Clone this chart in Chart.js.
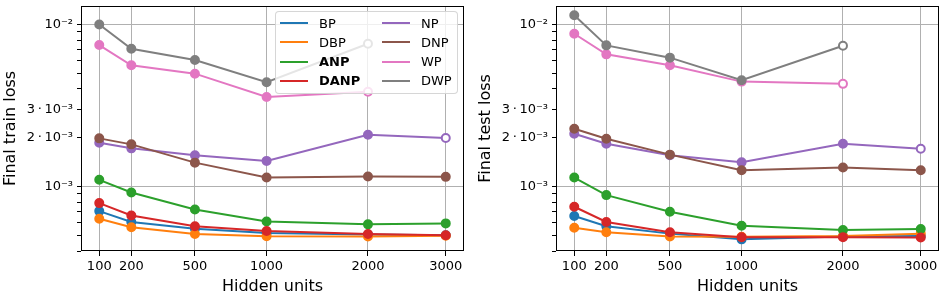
<!DOCTYPE html>
<html>
<head>
<meta charset="utf-8">
<script src="https://cdn.jsdelivr.net/npm/chart.js@4.4.1/dist/chart.umd.min.js"></script>
<style>
  body { margin: 0; background: #fff; }
  #fig { position: relative; width: 945px; height: 296px; }
  .panel { position: absolute; top: 0; width: 470px; height: 296px; }
  #legend {
    position: absolute; left: 275px; top: 11px; width: 181px; height: 81px;
    background: rgba(255, 255, 255, 0.8); border: 1px solid rgba(204, 204, 204, 0.8);
    border-radius: 4px; font: 13px 'DejaVu Sans', sans-serif; color: #000;
  }
  .item { position: absolute; display: flex; align-items: center; height: 19px; white-space: nowrap; }
  .swatch { width: 28px; height: 2px; margin-right: 11px; }
</style>
</head>
<body>
<div id="fig">
  <div class="panel" style="left:0"><canvas id="train" width="470" height="296"></canvas></div>
  <div class="panel" style="left:475px"><canvas id="test" width="470" height="296"></canvas></div>
  <div id="legend"></div>
</div>
<script>
const units = [100, 200, 500, 1000, 2000, 3000]
const names = ['BP', 'DBP', 'ANP', 'DANP', 'NP', 'DNP', 'WP', 'DWP']
const colors = ['#1f77b4', '#ff7f0e', '#2ca02c', '#d62728', '#9467bd', '#8c564b', '#e377c2', '#7f7f7f']
const boldNames = ['ANP', 'DANP']
// last point of these series is drawn as an open circle
const openLast = ['NP', 'WP', 'DWP']

// final train loss
const trainBP   = [0.000705, 0.000604, 0.000549, 0.000516, 0.000505, 0.000500]
const trainDBP  = [0.000633, 0.000560, 0.000509, 0.000493, 0.000492, 0.000497]
const trainANP  = [0.00110, 0.000919, 0.000722, 0.000609, 0.000584, 0.000592]
const trainDANP = [0.000790, 0.000663, 0.000568, 0.000531, 0.000509, 0.000500]
const trainNP   = [0.001864, 0.00172, 0.001558, 0.001439, 0.002087, 0.00199]
const trainDNP  = [0.001982, 0.00182, 0.001404, 0.001136, 0.001152, 0.001147]
const trainWP   = [0.00746, 0.00560, 0.00497, 0.00357, 0.00384, null]
const trainDWP  = [0.0100, 0.00708, 0.00603, 0.00440, 0.00760, null]

// final test loss
const testBP   = [0.000657, 0.000568, 0.000512, 0.000472, 0.000491, 0.000495]
const testDBP  = [0.000557, 0.000522, 0.000491, 0.000490, 0.000495, 0.000512]
const testANP  = [0.001136, 0.000885, 0.000699, 0.000573, 0.000539, 0.000547]
const testDANP = [0.000750, 0.000604, 0.000522, 0.000486, 0.000486, 0.000484]
const testNP   = [0.002117, 0.001838, 0.001558, 0.001411, 0.001838, 0.001712]
const testDNP  = [0.002273, 0.001972, 0.001573, 0.00126, 0.001309, 0.00126]
const testWP   = [0.00876, 0.00654, 0.00560, 0.00444, 0.00430, null]
const testDWP  = [0.0114, 0.00743, 0.00624, 0.00453, 0.00739, null]

const yTickValues = [4e-4, 5e-4, 6e-4, 7e-4, 8e-4, 9e-4, 1e-3, 2e-3, 3e-3, 4e-3, 5e-3, 6e-3, 7e-3, 8e-3, 9e-3, 1e-2]
const yTickLabels = ['', '', '', '', '', '', '10⁻³', '2\u2009·\u200910⁻³', '3\u2009·\u200910⁻³', '', '', '', '', '', '', '10⁻²']
const yGridValues = [1e-3, 1e-2]

Chart.defaults.font.family = "'DejaVu Sans', sans-serif"
Chart.defaults.color = '#000'

const frame = {
  id: 'frame',
  afterDatasetsDraw(chart) {
    const { ctx, chartArea: a } = chart
    ctx.save()
    ctx.strokeStyle = '#000'
    ctx.lineWidth = 1
    ctx.strokeRect(a.left + 0.5, a.top + 0.5, a.right - a.left - 1, a.bottom - a.top - 1)
    ctx.restore()
  }
}

function makeDatasets(series) {
  return names.map((name, i) => {
    const values = series[i]
    let lastIdx = -1
    values.forEach((v, j) => { if (v != null) lastIdx = j })
    const open = openLast.includes(name)
    return {
      label: name,
      data: units.map((u, j) => ({ x: Math.sqrt(u), y: values[j] })),
      borderColor: colors[i],
      backgroundColor: colors[i],
      pointBackgroundColor: values.map((v, j) => (open && j === lastIdx) ? '#fff' : colors[i]),
      pointBorderColor: colors[i],
      borderWidth: 2,
      pointRadius: 4,
      pointBorderWidth: 2,
      tension: 0,
      order: names.length - i
    }
  })
}

function makeChart(id, title, series) {
  new Chart(document.getElementById(id), {
    type: 'line',
    data: { datasets: makeDatasets(series) },
    options: {
      responsive: false,
      animation: false,
      events: [],
      layout: { padding: { left: 0, right: 5, top: 5, bottom: 0 } },
      scales: {
        x: {
          type: 'linear',
          min: 7.64,
          max: 57.13,
          afterBuildTicks: scale => { scale.ticks = units.map(u => ({ value: Math.sqrt(u) })) },
          afterFit: scale => { scale.height = 45; scale.paddingLeft = 0; scale.paddingRight = 0 },
          ticks: {
            autoSkip: false,
            maxRotation: 0,
            padding: 3,
            font: { size: 13 },
            callback: (v, i) => String(units[i])
          },
          grid: { color: '#b0b0b0', lineWidth: 1, tickColor: '#000', tickLength: 5 },
          border: { display: false },
          title: { display: true, text: 'Hidden units', font: { size: 16 }, padding: { top: 0, bottom: 0 } }
        },
        y: {
          type: 'logarithmic',
          min: 4e-4,
          max: 1.3e-2,
          afterBuildTicks: scale => { scale.ticks = yTickValues.map(v => ({ value: v })) },
          afterFit: scale => { scale.width = 81; scale.paddingTop = 0; scale.paddingBottom = 0 },
          ticks: {
            autoSkip: false,
            padding: 4,
            font: { size: 13 },
            callback: (v, i) => yTickLabels[i]
          },
          grid: {
            color: ctx => yGridValues.includes(ctx.tick && ctx.tick.value) ? '#b0b0b0' : 'rgba(0,0,0,0)',
            lineWidth: 1,
            tickColor: '#000',
            tickLength: 4
          },
          border: { display: false },
          title: { display: true, text: title, font: { size: 16 }, padding: { top: 1, bottom: 0 } }
        }
      },
      plugins: {
        legend: { display: false },
        tooltip: { enabled: false }
      }
    },
    plugins: [frame]
  })
}

makeChart('train', 'Final train loss',
  [trainBP, trainDBP, trainANP, trainDANP, trainNP, trainDNP, trainWP, trainDWP])
makeChart('test', 'Final test loss',
  [testBP, testDBP, testANP, testDANP, testNP, testDNP, testWP, testDWP])

// legend: two columns of four, as in the figure
const legend = document.getElementById('legend')
names.forEach((name, i) => {
  const col = Math.floor(i / 4)
  const row = i % 4
  const item = document.createElement('div')
  item.className = 'item'
  item.style.left = (4 + col * 102) + 'px'
  item.style.top = (1.5 + row * 19.3) + 'px'
  const sw = document.createElement('span')
  sw.className = 'swatch'
  sw.style.background = colors[i]
  const label = document.createElement('span')
  label.textContent = name
  if (boldNames.includes(name)) label.style.fontWeight = 'bold'
  item.appendChild(sw)
  item.appendChild(label)
  legend.appendChild(item)
})
</script>
</body>
</html>
